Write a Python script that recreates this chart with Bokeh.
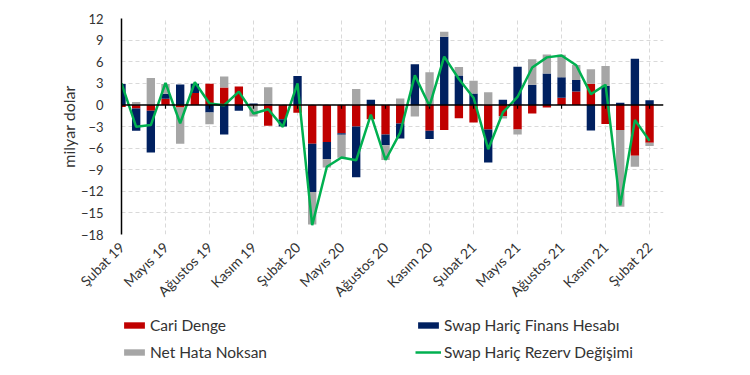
import numpy as np
from math import pi
from bokeh.plotting import figure
from bokeh.layouts import column
from bokeh.models import ColumnDataSource, Legend, LegendItem, FixedTicker, Range1d, Span
from bokeh.embed import file_html
from bokeh.resources import INLINE

months = ["Şubat 19", "Mart 19", "Nisan 19", "Mayıs 19", "Haziran 19", "Temmuz 19",
          "Ağustos 19", "Eylül 19", "Ekim 19", "Kasım 19", "Aralık 19", "Ocak 20",
          "Şubat 20", "Mart 20", "Nisan 20", "Mayıs 20", "Haziran 20", "Temmuz 20",
          "Ağustos 20", "Eylül 20", "Ekim 20", "Kasım 20", "Aralık 20", "Ocak 21",
          "Şubat 21", "Mart 21", "Nisan 21", "Mayıs 21", "Haziran 21", "Temmuz 21",
          "Ağustos 21", "Eylül 21", "Ekim 21", "Kasım 21", "Aralık 21", "Ocak 22",
          "Şubat 22"]

cari_denge = [-0.3, -0.5, -0.8, 0.85, -0.35, 1.65, 2.95, 2.4, 2.55, -0.1, -2.9, -2.0,
              -1.1, -5.4, -5.15, -3.95, -3.0, -2.0, -4.1, -2.6, 0.0, -3.6, -3.5, -1.85,
              -2.45, -3.4, -1.55, -3.4, -1.2, -0.35, 1.0, 1.85, 2.95, -2.65, -3.5, -7.05,
              -5.25]
finans_hesabi = [2.9, -3.1, -5.8, 0.7, 2.85, 1.3, -1.05, -4.1, -0.8, 0.2, 0.15, -1.0,
                 4.0, -6.7, -2.4, -0.2, -7.05, 0.7, -1.5, -2.05, 5.65, -1.15, 9.45, 4.1,
                 1.6, -4.6, 0.7, 5.3, 2.8, 4.35, 2.85, 1.6, -3.55, 2.65, 0.3, 6.4,
                 0.65]
net_hata = [0.0, 0.4, 3.75, 1.35, -5.05, 0.0, -1.65, 1.55, 0.0, -1.5, 2.3, 0.0,
            0.0, -4.5, -1.15, -3.2, 2.2, 0.0, -2.05, 0.9, -1.6, 4.55, 0.7, 1.15,
            1.75, 1.75, -0.35, -0.7, 3.55, 2.65, 3.1, 2.1, 2.0, 2.75, -10.65, -1.55,
            -0.45]
rezerv = [3.0, -3.05, -2.8, 3.05, -2.55, 3.15, 0.2, -0.05, 1.85, -1.2, -0.6, -3.05,
          3.0, -16.7, -8.6, -7.3, -7.7, -1.35, -7.65, -3.85, 4.1, -0.15, 6.7, 3.6,
          1.0, -6.15, -1.05, 1.1, 5.2, 6.6, 6.85, 5.5, 1.5, 2.8, -13.95, -2.1,
          -5.0]

y_ticks = [-18, -15, -12, -9, -6, -3, 0, 3, 6, 9, 12]

series = [("Cari Denge", cari_denge, "#C00000"),
          ("Swap Hariç Finans Hesabı", finans_hesabi, "#002060"),
          ("Net Hata Noksan", net_hata, "#A6A6A6")]
line_name = "Swap Hariç Rezerv Değişimi"
line_color = "#00B050"

n = len(months)
x = np.arange(n)
tick_idx = list(range(0, n, 3))
TICK_LEN = 0.55  # length of the small category ticks on the zero line, in axis units

data = {"x": x}
pos = np.zeros(n)
neg = np.zeros(n)
for k, (name, vals, col) in enumerate(series):
    v = np.array(vals, dtype=float)
    b = np.where(v >= 0, pos, neg + v)
    t = np.where(v >= 0, pos + v, neg)
    pos = pos + np.clip(v, 0, None)
    neg = neg + np.clip(v, None, 0)
    data[f"b{k}"] = b
    data[f"t{k}"] = t
data["rez"] = rezerv
src = ColumnDataSource(data)

FONT = "Lato"
TXT = "#333333"

p = figure(width=750, height=310, x_range=Range1d(0, 36.95), y_range=Range1d(-18, 12),
           output_backend="svg", toolbar_location=None,
           min_border_left=121, min_border_right=87, min_border_top=18, min_border_bottom=76)
p.outline_line_color = None

p.xgrid.ticker = FixedTicker(ticks=tick_idx)
p.ygrid.ticker = FixedTicker(ticks=y_ticks)
for g in (p.xgrid, p.ygrid):
    g.grid_line_color = "#D9D9D9"
    g.grid_line_dash = "4 3"
    g.grid_line_width = 1

for k, (name, vals, col) in enumerate(series):
    p.vbar(x="x", bottom=f"b{k}", top=f"t{k}", width=0.57, source=src,
           fill_color=col, line_color=None)

p.add_layout(Span(location=0, dimension="width", line_color="black", line_width=1.5))
p.segment(x0=tick_idx, y0=[0] * len(tick_idx), x1=tick_idx, y1=[-TICK_LEN] * len(tick_idx),
          line_color="black", line_width=1.2)

p.line(x="x", y="rez", source=src, line_color=line_color, line_width=2.5)

# axes
p.yaxis.ticker = FixedTicker(ticks=y_ticks)
p.yaxis.axis_line_color = "black"
p.yaxis.axis_line_width = 1.5
p.yaxis.major_tick_line_color = None
p.yaxis.minor_tick_line_color = None
p.yaxis.major_label_standoff = 12
p.yaxis.major_label_text_font = FONT
p.yaxis.major_label_text_font_size = "13px"
p.yaxis.major_label_text_color = TXT
p.yaxis.axis_label = "milyar dolar"
p.yaxis.axis_label_text_font = FONT
p.yaxis.axis_label_text_font_style = "normal"
p.yaxis.axis_label_text_font_size = "16px"
p.yaxis.axis_label_text_color = TXT
p.yaxis.axis_label_standoff = 0

p.xaxis.ticker = FixedTicker(ticks=tick_idx)
p.xaxis.major_label_overrides = {i: months[i] for i in tick_idx}
p.xaxis.major_label_orientation = pi / 4
p.xaxis.axis_line_color = None
p.xaxis.major_tick_line_color = None
p.xaxis.minor_tick_line_color = None
p.xaxis.major_label_standoff = 4
p.xaxis.major_label_text_font = FONT
p.xaxis.major_label_text_font_size = "14px"
p.xaxis.major_label_text_color = TXT

# legend panel: a second figure whose y range excludes all data, so only the legend shows
p2 = figure(width=750, height=65, x_range=Range1d(0, 36.95), y_range=Range1d(100, 101),
            output_backend="svg", toolbar_location=None,
            x_axis_location=None, y_axis_location=None,
            min_border_left=121, min_border_right=0, min_border_top=5, min_border_bottom=0)
p2.grid.visible = False
p2.outline_line_color = None
sw = {}
for k, (name, vals, col) in enumerate(series):
    sw[name] = p2.vbar(x="x", bottom=f"b{k}", top=f"t{k}", width=0.57, source=src,
                       fill_color=col, line_color=None)
sw[line_name] = p2.line(x="x", y="rez", source=src, line_color=line_color, line_width=2.5)

order = ["Cari Denge", "Net Hata Noksan", "Swap Hariç Finans Hesabı", line_name]
legend = Legend(items=[LegendItem(label=nm, renderers=[sw[nm]]) for nm in order],
                location="top_left", ncols=2)
legend.border_line_color = None
legend.background_fill_alpha = 0
legend.margin = 0
legend.padding = 6
legend.spacing = 7
legend.glyph_width = 26
legend.glyph_height = 8
legend.label_height = 20
legend.label_width = 258
legend.label_standoff = 3
legend.label_text_font = FONT
legend.label_text_font_size = "15.5px"
legend.label_text_color = TXT
p2.add_layout(legend)

layout = column(p, p2, spacing=0)
open("out.html", "w").write(file_html(layout, INLINE))
